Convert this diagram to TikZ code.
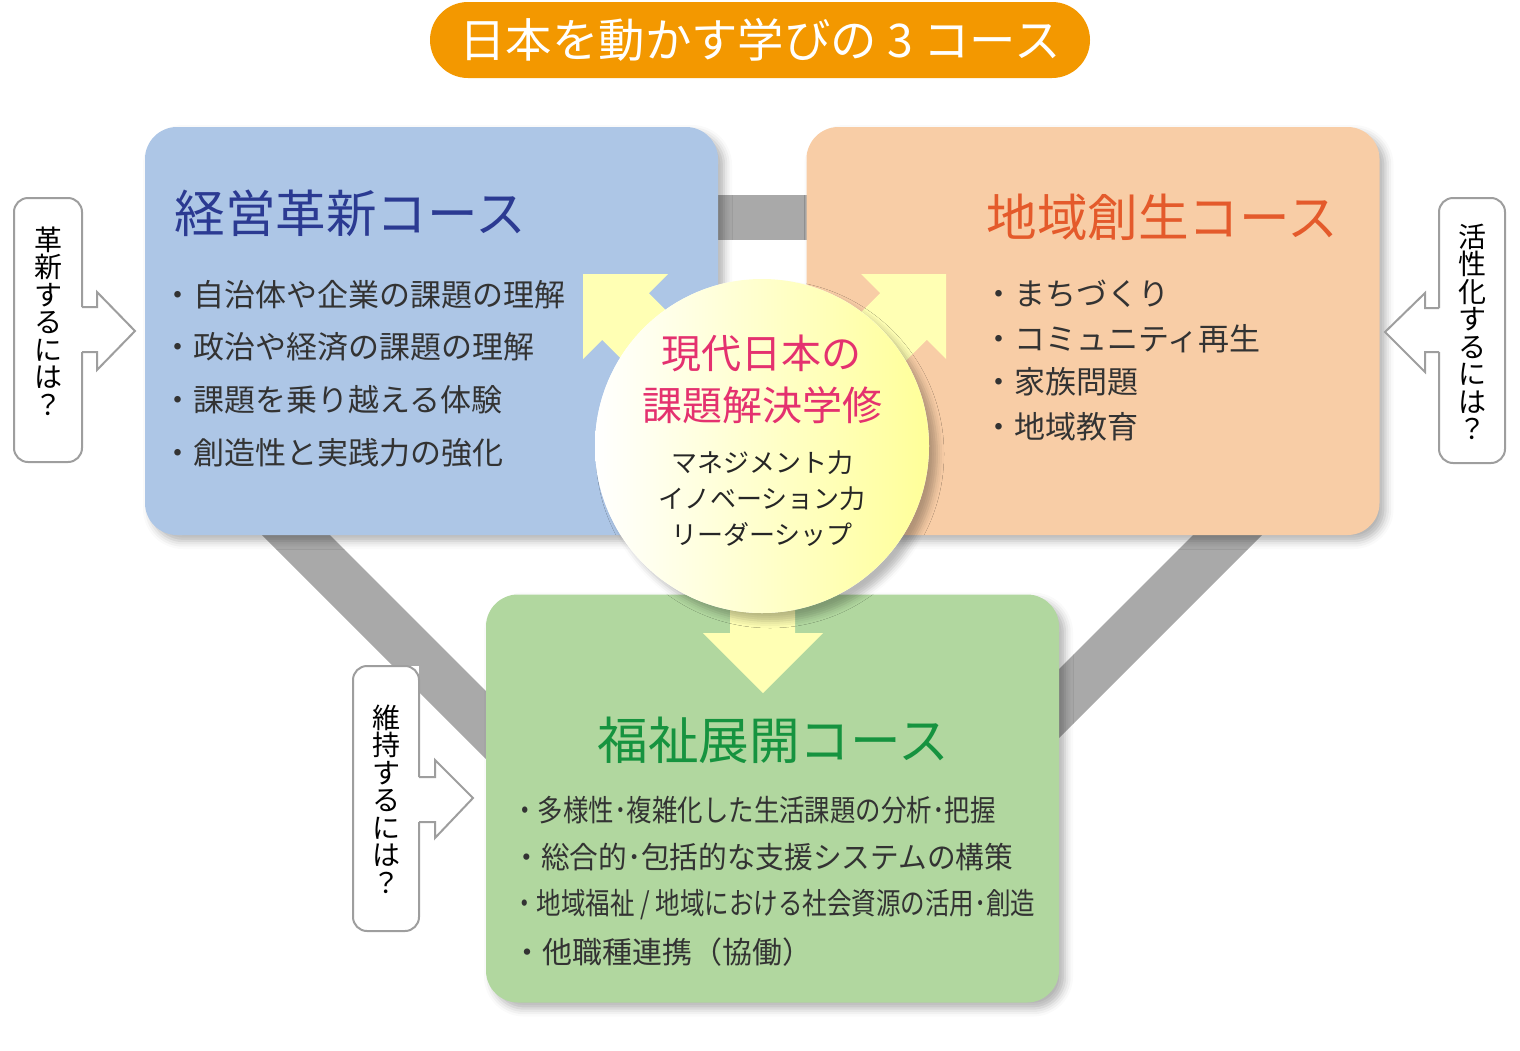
\documentclass[tikz,border=0pt]{standalone}
\usepackage{fontspec}
\usepackage{graphicx}
\setmainfont{Noto Sans CJK JP}
\usetikzlibrary{shadows.blur}
\definecolor{pillc}{HTML}{F39800}
\definecolor{bluebox}{HTML}{ADC6E6}
\definecolor{orangebox}{HTML}{F8CDA6}
\definecolor{greenbox}{HTML}{B1D79F}
\definecolor{bandc}{HTML}{A9A9A9}
\definecolor{yel}{HTML}{FFFFB4}
\definecolor{bluet}{HTML}{2B3A92}
\definecolor{oranget}{HTML}{E45A2B}
\definecolor{greent}{HTML}{16933F}
\definecolor{pinkt}{HTML}{E4316F}
\definecolor{bodyt}{HTML}{333333}
\definecolor{calloutc}{HTML}{9E9E9E}
\tikzset{
  course/.style={rounded corners=16pt, minimum width=286.5pt, minimum height=204pt,
    inner sep=0pt, blur shadow={shadow xshift=3pt, shadow yshift=-3pt, shadow blur radius=4pt, shadow opacity=30}},
  ctitle/.style={anchor=west, inner sep=0pt, font=\fontsize{25.3}{27}\selectfont},
  item/.style={anchor=west, inner sep=0pt, text=bodyt, font=\fontsize{15.5}{16}\selectfont},
  gitem/.style={anchor=west, inner sep=0pt, text=bodyt, font=\fontsize{15}{16}\selectfont},
  band/.style={fill=bandc},
  yarrow/.style={fill=yel},
  callout/.style={draw=calloutc, line width=1pt},
  vtext/.style={align=center, inner sep=0pt, text=black, font=\fontsize{14}{13.75}\selectfont},
  ctext/.style={inner sep=0pt},
}
\begin{document}
\begin{tikzpicture}[x=0.5pt,y=-0.5pt]
\useasboundingbox (0,0) rectangle (1520,1050);
% title pill
\node[fill=pillc, rounded corners=19pt, minimum width=330pt, minimum height=38pt, inner sep=0pt,
  text=white, font=\fontsize{23.2}{25}\selectfont] (title) at (760,40) {日本を動かす学びの 3 コース};
% gray bands
\fill[band] (700,195) rectangle (820,240);
\fill[band] (247,520) -- (315,520) -- (500,705) -- (500,773) -- cycle;
\fill[band] (1208,520) -- (1277,520) -- (1045,752) -- (1045,683) -- cycle;
% course boxes
\node[course, fill=bluebox] (blue) at (431.5,331) {};
\node[course, fill=orangebox] (orange) at (1093,331) {};
\node[course, fill=greenbox] (green) at (772.5,798.5) {};
% titles
\node[ctitle, text=bluet] (bt) at (174,213) {経営革新コース};
\node[ctitle, text=oranget] (ot) at (986,217) {地域創生コース};
\node[ctitle, text=greent] (gt) at (597,740) {福祉展開コース};
% blue items
\node[item] (b1) at (162,295) {・自治体や企業の課題の理解};
\node[item] (b2) at (162,347) {・政治や経済の課題の理解};
\node[item] (b3) at (162,400) {・課題を乗り越える体験};
\node[item] (b4) at (162,453) {・創造性と実践力の強化};
% orange items
\node[item] (o1) at (983,294) {・まちづくり};
\node[item] (o2) at (983,339) {・コミュニティ再生};
\node[item] (o3) at (983,382) {・家族問題};
\node[item] (o4) at (983,427) {・地域教育};
% green items
\node[gitem] (g1) at (512,810) {\scalebox{0.848}[1]{・多様性･複雑化した生活課題の分析･把握}};
\node[gitem] (g2) at (512,857) {\scalebox{0.955}[1]{・総合的･包括的な支援システムの構策}};
\node[gitem] (g3) at (512,905) {\scalebox{0.817}[1]{・地域福祉 / 地域における社会資源の活用･創造}};
\node[gitem] (g4) at (512,952) {・他職種連携（協働）};
% yellow arrows
\fill[yarrow] (583,274) -- (668,274) -- (648.8,293.2) -- (785.3,429.7) -- (738.7,476.3) -- (602.2,339.8) -- (583,359) -- cycle;
\fill[yarrow] (946,274) -- (861,274) -- (880.2,293.2) -- (743.7,429.7) -- (790.3,476.3) -- (926.8,339.8) -- (946,359) -- cycle;
\fill[yarrow] (730,450) -- (795,450) -- (795,633) -- (823,633) -- (763,693) -- (703,633) -- (730,633) -- cycle;
% core circle
\node[circle, minimum size=167pt, inner sep=0pt, fill=white,
  blur shadow={shadow xshift=4pt, shadow yshift=-4pt, shadow blur radius=3.5pt, shadow opacity=28}] (coreshadow) at (762,446) {};
\node[circle, minimum size=167pt, inner sep=0pt, left color=white, right color=yel!85!yellow] (core) at (762,446) {};
\node[ctext, text=pinkt, font=\fontsize{20}{22}\selectfont] (c1) at (761,353) {現代日本の};
\node[ctext, text=pinkt, font=\fontsize{20}{22}\selectfont] (c2) at (762,405) {課題解決学修};
\node[ctext, text=black!85, font=\fontsize{13}{14}\selectfont] (c3) at (762,463) {マネジメント力};
\node[ctext, text=black!85, font=\fontsize{13}{14}\selectfont] (c4) at (762,499) {イノベーション力};
\node[ctext, text=black!85, font=\fontsize{13}{14}\selectfont] (c5) at (762,534) {リーダーシップ};
% left callout
\fill[white] (14,198) rectangle (82,462);
\fill[white] (82,307) -- (97,307) -- (97,292) -- (135,331) -- (97,370) -- (97,352) -- (82,352) -- cycle;
\draw[callout, rounded corners=7pt] (82,352) -- (82,462) -- (14,462) -- (14,198) -- (82,198) -- (82,307);
\draw[callout] (82,307) -- (97,307) -- (97,292) -- (135,331) -- (97,370) -- (97,352) -- (82,352);
\node[vtext] (lq) at (48,321) {革\\新\\す\\る\\に\\は\\？};
% right callout
\fill[white] (1439,198) rectangle (1505,463);
\fill[white] (1439,308) -- (1425,308) -- (1425,293) -- (1385,332) -- (1425,372) -- (1425,352) -- (1439,352) -- cycle;
\draw[callout, rounded corners=7pt] (1439,308) -- (1439,198) -- (1505,198) -- (1505,463) -- (1439,463) -- (1439,352);
\draw[callout] (1439,308) -- (1425,308) -- (1425,293) -- (1385,332) -- (1425,372) -- (1425,352) -- (1439,352);
\node[vtext] (rq) at (1472,332) {活\\性\\化\\す\\る\\に\\は\\？};
% bottom callout
\fill[white] (353,666) rectangle (419,931);
\fill[white] (419,777) -- (435,777) -- (435,760) -- (473,798) -- (435,838) -- (435,822) -- (419,822) -- cycle;
\draw[callout, rounded corners=7pt] (419,822) -- (419,931) -- (353,931) -- (353,666) -- (419,666) -- (419,777);
\draw[callout] (419,777) -- (435,777) -- (435,760) -- (473,798) -- (435,838) -- (435,822) -- (419,822);
\node[vtext] (bq) at (386,799) {維\\持\\す\\る\\に\\は\\？};
\end{tikzpicture}
\end{document}
